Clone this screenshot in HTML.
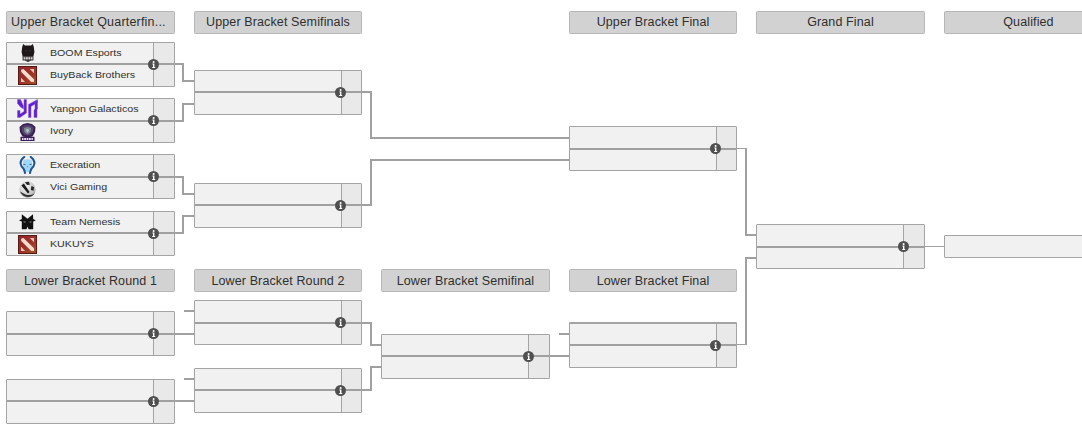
<!DOCTYPE html><html><head><meta charset="utf-8"><style>
html,body{margin:0;padding:0;background:#fff;width:1082px;height:430px;overflow:hidden;position:relative;font-family:"Liberation Sans",sans-serif}
.c{position:absolute}
.hd{position:absolute;height:23px;box-sizing:border-box;background:#d2d2d2;border:1px solid #b6b6b6;border-radius:1.5px;color:#2f2f2f;font-size:12.5px;letter-spacing:0.12px;line-height:21px;text-align:center;white-space:nowrap;overflow:hidden}
.m{position:absolute;height:45px;box-sizing:border-box;border-radius:1px;overflow:hidden;border:1px solid #a4a4a4;background:#f1f1f1}
.sc{position:absolute;right:0;top:0;bottom:0;box-sizing:border-box;background:#e9e9e9;border-left:1px solid #a4a4a4}
.ml{position:absolute;left:0;right:0;height:2px;background:#a0a0a0}
.tn{position:absolute;height:20px;line-height:20px;font-size:9.5px;letter-spacing:0;transform:scaleX(1.12);transform-origin:0 0;color:#303030;white-space:nowrap}
.ic{position:absolute;width:22px;height:22px;display:flex;align-items:center;justify-content:center}
.ic svg{display:block}
.info{position:absolute;display:block}
</style></head><body>
<div class="hd" style="left:6px;top:11px;width:169px;text-align:left;padding-left:4px;letter-spacing:0.2px">Upper Bracket Quarterfin...</div><div class="hd" style="left:194px;top:11px;width:168px;">Upper Bracket Semifinals</div><div class="hd" style="left:569px;top:11px;width:168px;">Upper Bracket Final</div><div class="hd" style="left:756px;top:11px;width:169px;">Grand Final</div><div class="hd" style="left:944px;top:11px;width:169px;">Qualified</div><div class="hd" style="left:6px;top:269px;width:169px;line-height:23px">Lower Bracket Round 1</div><div class="hd" style="left:194px;top:269px;width:168px;line-height:23px">Lower Bracket Round 2</div><div class="hd" style="left:381px;top:269px;width:169px;line-height:23px">Lower Bracket Semifinal</div><div class="hd" style="left:569px;top:269px;width:168px;line-height:23px">Lower Bracket Final</div><div class="c" style="left:175px;top:63px;width:9px;height:2px;background:#a0a0a0"></div><div class="c" style="left:182px;top:63px;width:2px;height:19px;background:#a0a0a0"></div><div class="c" style="left:182px;top:80px;width:12px;height:2px;background:#a0a0a0"></div><div class="c" style="left:175px;top:120px;width:9px;height:2px;background:#a0a0a0"></div><div class="c" style="left:182px;top:103px;width:2px;height:19px;background:#a0a0a0"></div><div class="c" style="left:182px;top:103px;width:12px;height:2px;background:#a0a0a0"></div><div class="c" style="left:175px;top:176px;width:9px;height:2px;background:#a0a0a0"></div><div class="c" style="left:182px;top:176px;width:2px;height:19px;background:#a0a0a0"></div><div class="c" style="left:182px;top:193px;width:12px;height:2px;background:#a0a0a0"></div><div class="c" style="left:175px;top:232px;width:9px;height:2px;background:#a0a0a0"></div><div class="c" style="left:182px;top:215px;width:2px;height:19px;background:#a0a0a0"></div><div class="c" style="left:182px;top:215px;width:12px;height:2px;background:#a0a0a0"></div><div class="c" style="left:362px;top:91px;width:10px;height:2px;background:#a0a0a0"></div><div class="c" style="left:370px;top:91px;width:2px;height:48px;background:#a0a0a0"></div><div class="c" style="left:370px;top:137px;width:199px;height:2px;background:#a0a0a0"></div><div class="c" style="left:362px;top:204px;width:10px;height:2px;background:#a0a0a0"></div><div class="c" style="left:370px;top:159px;width:2px;height:47px;background:#a0a0a0"></div><div class="c" style="left:370px;top:159px;width:199px;height:2px;background:#a0a0a0"></div><div class="c" style="left:737px;top:148px;width:10px;height:1px;background:#a0a0a0"></div><div class="c" style="left:745px;top:148px;width:2px;height:88px;background:#a0a0a0"></div><div class="c" style="left:745px;top:234px;width:11px;height:2px;background:#a0a0a0"></div><div class="c" style="left:737px;top:344px;width:10px;height:1px;background:#a0a0a0"></div><div class="c" style="left:745px;top:257px;width:2px;height:88px;background:#a0a0a0"></div><div class="c" style="left:745px;top:257px;width:11px;height:2px;background:#a0a0a0"></div><div class="c" style="left:925px;top:246px;width:19px;height:1px;background:#a3a3a3"></div><div class="c" style="left:175px;top:333px;width:19px;height:2px;background:#a0a0a0"></div><div class="c" style="left:184px;top:310px;width:10px;height:2px;background:#a0a0a0"></div><div class="c" style="left:175px;top:400px;width:19px;height:2px;background:#a0a0a0"></div><div class="c" style="left:184px;top:378px;width:10px;height:2px;background:#a0a0a0"></div><div class="c" style="left:362px;top:322px;width:10px;height:2px;background:#a0a0a0"></div><div class="c" style="left:370px;top:322px;width:2px;height:24px;background:#a0a0a0"></div><div class="c" style="left:370px;top:344px;width:11px;height:2px;background:#a0a0a0"></div><div class="c" style="left:362px;top:389px;width:10px;height:2px;background:#a0a0a0"></div><div class="c" style="left:370px;top:366px;width:2px;height:25px;background:#a0a0a0"></div><div class="c" style="left:370px;top:366px;width:11px;height:2px;background:#a0a0a0"></div><div class="c" style="left:550px;top:355px;width:19px;height:2px;background:#a0a0a0"></div><div class="c" style="left:559px;top:333px;width:10px;height:2px;background:#a0a0a0"></div><div class="m" style="left:6px;top:42px;width:169px"><div class="sc" style="left:146px"></div><div class="ml" style="top:20px"></div></div><div class="tn" style="left:50px;top:42.81px">BOOM Esports</div><div class="ic" style="left:16.8px;top:41.80px"><svg width="14" height="18" viewBox="0 0 14 18"><path d="M2.2 0 L4 1.6 L10 1.6 L11.8 0 L12.8 3 L13.4 8 L12.4 12.6 L1.6 12.6 L0.6 8 L1.2 3 Z" fill="#1e1719"/><path d="M4.5 6 L6.3 7 L4.8 7.6Z M9.5 6 L7.7 7 L9.2 7.6Z" fill="#4a4244"/><rect x="1.6" y="12.4" width="10.8" height="4" fill="#221b1d"/><g fill="#d9d4d5"><rect x="2.5" y="13.2" width="1.9" height="2.3"/><rect x="4.9" y="13.2" width="1.9" height="2.3"/><rect x="7.3" y="13.2" width="1.9" height="2.3"/><rect x="9.7" y="13.2" width="1.9" height="2.3"/></g><path d="M3.5 16.3 L10.5 16.3 L7 17.9 Z" fill="#1e1719"/></svg></div><div class="tn" style="left:50px;top:65.11px">BuyBack Brothers</div><div class="ic" style="left:16.8px;top:64.50px"><svg width="19" height="19" viewBox="0 0 19 19"><defs><linearGradient id="dg" x1="0" y1="0" x2="1" y2="1"><stop offset="0" stop-color="#92232e"/><stop offset="0.55" stop-color="#9c3328"/><stop offset="1" stop-color="#a85026"/></linearGradient></defs><rect x="0" y="0" width="19" height="19" fill="#521b14"/><rect x="1" y="1" width="17" height="17" fill="url(#dg)"/><path d="M3 3.8 L5.5 3 L16 13.2 L16 16 L13.2 16 L3.2 6 Z" fill="#f7dccb"/><path d="M11.8 3 L16 3 L16 7.2 Z" fill="#f0c7b4"/><path d="M3 11.8 L3 16 L7.2 16 Z" fill="#f0c7b4"/></svg></div><svg class="info" style="left:148px;top:59px" width="11" height="11" viewBox="0 0 11 11"><circle cx="5.5" cy="5.5" r="5.5" fill="#4f4f4f"/><circle cx="5.6" cy="2.9" r="1" fill="#fff"/><path d="M4.4 4.6h2v3.4h0.8v1h-3v-1h0.8v-2.4h-0.6z" fill="#fff"/></svg><div class="m" style="left:6px;top:98px;width:169px"><div class="sc" style="left:146px"></div><div class="ml" style="top:21px"></div></div><div class="tn" style="left:50px;top:98.81px">Yangon Galacticos</div><div class="ic" style="left:16.8px;top:97.80px"><svg width="21" height="19" viewBox="0 0 21 19"><g fill="#5f22c8" stroke="#8a55ea" stroke-width="0.5" stroke-linejoin="round"><path d="M0.5 0.5 L3.5 0.5 L6.5 7 L6.5 10 L3.5 8 L0.5 4.5 Z"/><path d="M7 0.5 L9.5 0.5 L9.5 14 L3 18.5 L0.5 18.5 L0.5 11.5 L3 11.5 L3 15 L7 12.5 Z"/><path d="M11.5 5.5 L20.5 0.5 L20.5 3.5 L14 7.5 L14 18.5 L11.5 18.5 Z"/><path d="M18 3.2 L20.5 1.8 L20.5 10 L20 10.5 L20 18.5 L17 18.5 L17 11 L18 10 Z"/></g></svg></div><div class="tn" style="left:50px;top:121.11px">Ivory</div><div class="ic" style="left:16.8px;top:120.50px"><svg width="17" height="18" viewBox="0 0 17 18"><path d="M0.5 4 L4 1 L8.5 0 L13 1 L16.5 4 L16 9 L13.5 13.5 L8.5 14.5 L3.5 13.5 L1 9 Z" fill="#38204f"/><path d="M2.5 4.5 L5 2.5 L8.5 2 L12 2.5 L14.5 4.5 L14 8.5 L12 11.5 L8.5 12.5 L5 11.5 L3 8.5 Z" fill="#574370"/><path d="M5 5 L8.5 4 L12 5 L11.5 9 L8.5 11.5 L5.5 9 Z" fill="#7b8a92"/><path d="M7 6.5 L8.5 6 L10 6.5 L9.5 8.5 L8.5 9.5 L7.5 8.5 Z" fill="#b4c0c6"/><rect x="1.5" y="13.8" width="14" height="4.2" fill="#3a1f5c"/><g fill="#e6def0"><rect x="3" y="15" width="1.5" height="2"/><rect x="5.2" y="15" width="1.8" height="2"/><rect x="7.6" y="15" width="1.8" height="2"/><rect x="10" y="15" width="1.8" height="2"/><rect x="12.4" y="15" width="1.5" height="2"/></g></svg></div><svg class="info" style="left:148px;top:115px" width="11" height="11" viewBox="0 0 11 11"><circle cx="5.5" cy="5.5" r="5.5" fill="#4f4f4f"/><circle cx="5.6" cy="2.9" r="1" fill="#fff"/><path d="M4.4 4.6h2v3.4h0.8v1h-3v-1h0.8v-2.4h-0.6z" fill="#fff"/></svg><div class="m" style="left:6px;top:154px;width:169px"><div class="sc" style="left:146px"></div><div class="ml" style="top:21px"></div></div><div class="tn" style="left:50px;top:154.81px">Execration</div><div class="ic" style="left:16.8px;top:153.80px"><svg width="17" height="18" viewBox="0 0 17 18"><path d="M4.2 4.6 Q8.5 1.8 12.8 4.6 L13.2 10 Q11.2 12.5 10.2 16 L6.8 16 Q5.8 12.5 3.8 10 Z" fill="#9fd7f7"/><g fill="none" stroke="#1d5595" stroke-width="2.1" stroke-linecap="round" stroke-linejoin="round"><path d="M5.2 1 Q1.2 4 1.6 7.5 Q2 10.5 4.6 12.8 Q5.8 14.5 6 17"/><path d="M11.8 1 Q15.8 4 15.4 7.5 Q15 10.5 12.4 12.8 Q11.2 14.5 11 17"/></g><path d="M4.2 7.7 L7.4 8.3 L4.8 9.1 Z M12.8 7.7 L9.6 8.3 L12.2 9.1 Z" fill="#1d5595"/><path d="M7.8 10.2 L9.2 10.2 L8.5 11.6 Z" fill="#3d78b5"/></svg></div><div class="tn" style="left:50px;top:177.11px">Vici Gaming</div><div class="ic" style="left:16.8px;top:176.50px"><svg width="18" height="20" viewBox="0.6 -3 18 20"><defs><radialGradient id="vg" cx="0.4" cy="0.35" r="0.75"><stop offset="0" stop-color="#fafafa"/><stop offset="0.7" stop-color="#c4c4c4"/><stop offset="1" stop-color="#8a8a8a"/></radialGradient></defs><circle cx="9" cy="8.5" r="8.2" fill="url(#vg)"/><path d="M3 4.5 L5.5 2.6 L11.2 11 L9.6 12.6 Z" fill="#1c1c1c"/><path d="M6.5 1.2 L10.5 0.8 L11.5 3.8 L8.6 4 Z" fill="#2a2a2a"/><path d="M13 5 L15.6 6 L15.2 9.8 L12.4 9 Z" fill="#262626"/><path d="M1.5 10.5 Q4.5 16.2 10.5 16 Q14.5 15.5 16.2 12.5 Q12 15 7 13.4 Z" fill="#303030"/></svg></div><svg class="info" style="left:148px;top:171px" width="11" height="11" viewBox="0 0 11 11"><circle cx="5.5" cy="5.5" r="5.5" fill="#4f4f4f"/><circle cx="5.6" cy="2.9" r="1" fill="#fff"/><path d="M4.4 4.6h2v3.4h0.8v1h-3v-1h0.8v-2.4h-0.6z" fill="#fff"/></svg><div class="m" style="left:6px;top:211px;width:169px"><div class="sc" style="left:146px"></div><div class="ml" style="top:20px"></div></div><div class="tn" style="left:50px;top:211.81px">Team Nemesis</div><div class="ic" style="left:16.8px;top:210.80px"><svg width="17" height="16" viewBox="0 0 17 16"><path d="M2.8 0.2 L8.5 4.7 L14 0.2 L14.2 5 L16.8 6.4 L14.2 7.6 L14.2 15.3 L9.5 15.3 L8.5 12.5 L7.5 15.3 L2.8 15.3 L2.8 7.6 L0 6.4 L2.8 5 Z" fill="#111"/><path d="M4.5 7.2 L7.5 8 L4.8 8.7 Z M12.5 7.2 L9.5 8 L12.2 8.7 Z" fill="#8a8a8a"/></svg></div><div class="tn" style="left:50px;top:234.11px">KUKUYS</div><div class="ic" style="left:16.8px;top:233.50px"><svg width="19" height="19" viewBox="0 0 19 19"><defs><linearGradient id="dg" x1="0" y1="0" x2="1" y2="1"><stop offset="0" stop-color="#92232e"/><stop offset="0.55" stop-color="#9c3328"/><stop offset="1" stop-color="#a85026"/></linearGradient></defs><rect x="0" y="0" width="19" height="19" fill="#521b14"/><rect x="1" y="1" width="17" height="17" fill="url(#dg)"/><path d="M3 3.8 L5.5 3 L16 13.2 L16 16 L13.2 16 L3.2 6 Z" fill="#f7dccb"/><path d="M11.8 3 L16 3 L16 7.2 Z" fill="#f0c7b4"/><path d="M3 11.8 L3 16 L7.2 16 Z" fill="#f0c7b4"/></svg></div><svg class="info" style="left:148px;top:228px" width="11" height="11" viewBox="0 0 11 11"><circle cx="5.5" cy="5.5" r="5.5" fill="#4f4f4f"/><circle cx="5.6" cy="2.9" r="1" fill="#fff"/><path d="M4.4 4.6h2v3.4h0.8v1h-3v-1h0.8v-2.4h-0.6z" fill="#fff"/></svg><div class="m" style="left:194px;top:70px;width:168px"><div class="sc" style="left:146px"></div><div class="ml" style="top:20px"></div></div><svg class="info" style="left:335px;top:87px" width="11" height="11" viewBox="0 0 11 11"><circle cx="5.5" cy="5.5" r="5.5" fill="#4f4f4f"/><circle cx="5.6" cy="2.9" r="1" fill="#fff"/><path d="M4.4 4.6h2v3.4h0.8v1h-3v-1h0.8v-2.4h-0.6z" fill="#fff"/></svg><div class="m" style="left:194px;top:183px;width:168px"><div class="sc" style="left:146px"></div><div class="ml" style="top:20px"></div></div><svg class="info" style="left:335px;top:200px" width="11" height="11" viewBox="0 0 11 11"><circle cx="5.5" cy="5.5" r="5.5" fill="#4f4f4f"/><circle cx="5.6" cy="2.9" r="1" fill="#fff"/><path d="M4.4 4.6h2v3.4h0.8v1h-3v-1h0.8v-2.4h-0.6z" fill="#fff"/></svg><div class="m" style="left:569px;top:126px;width:168px"><div class="sc" style="left:146px"></div><div class="ml" style="top:21px"></div></div><svg class="info" style="left:710px;top:143px" width="11" height="11" viewBox="0 0 11 11"><circle cx="5.5" cy="5.5" r="5.5" fill="#4f4f4f"/><circle cx="5.6" cy="2.9" r="1" fill="#fff"/><path d="M4.4 4.6h2v3.4h0.8v1h-3v-1h0.8v-2.4h-0.6z" fill="#fff"/></svg><div class="m" style="left:756px;top:224px;width:169px"><div class="sc" style="left:146px"></div><div class="ml" style="top:21px"></div></div><svg class="info" style="left:898px;top:241px" width="11" height="11" viewBox="0 0 11 11"><circle cx="5.5" cy="5.5" r="5.5" fill="#4f4f4f"/><circle cx="5.6" cy="2.9" r="1" fill="#fff"/><path d="M4.4 4.6h2v3.4h0.8v1h-3v-1h0.8v-2.4h-0.6z" fill="#fff"/></svg><div class="m" style="left:6px;top:311px;width:169px"><div class="sc" style="left:146px"></div><div class="ml" style="top:21px"></div></div><svg class="info" style="left:148px;top:328px" width="11" height="11" viewBox="0 0 11 11"><circle cx="5.5" cy="5.5" r="5.5" fill="#4f4f4f"/><circle cx="5.6" cy="2.9" r="1" fill="#fff"/><path d="M4.4 4.6h2v3.4h0.8v1h-3v-1h0.8v-2.4h-0.6z" fill="#fff"/></svg><div class="m" style="left:6px;top:379px;width:169px"><div class="sc" style="left:146px"></div><div class="ml" style="top:20px"></div></div><svg class="info" style="left:148px;top:396px" width="11" height="11" viewBox="0 0 11 11"><circle cx="5.5" cy="5.5" r="5.5" fill="#4f4f4f"/><circle cx="5.6" cy="2.9" r="1" fill="#fff"/><path d="M4.4 4.6h2v3.4h0.8v1h-3v-1h0.8v-2.4h-0.6z" fill="#fff"/></svg><div class="m" style="left:194px;top:300px;width:168px"><div class="sc" style="left:146px"></div><div class="ml" style="top:21px"></div></div><svg class="info" style="left:335px;top:317px" width="11" height="11" viewBox="0 0 11 11"><circle cx="5.5" cy="5.5" r="5.5" fill="#4f4f4f"/><circle cx="5.6" cy="2.9" r="1" fill="#fff"/><path d="M4.4 4.6h2v3.4h0.8v1h-3v-1h0.8v-2.4h-0.6z" fill="#fff"/></svg><div class="m" style="left:194px;top:368px;width:168px"><div class="sc" style="left:146px"></div><div class="ml" style="top:20px"></div></div><svg class="info" style="left:335px;top:385px" width="11" height="11" viewBox="0 0 11 11"><circle cx="5.5" cy="5.5" r="5.5" fill="#4f4f4f"/><circle cx="5.6" cy="2.9" r="1" fill="#fff"/><path d="M4.4 4.6h2v3.4h0.8v1h-3v-1h0.8v-2.4h-0.6z" fill="#fff"/></svg><div class="m" style="left:381px;top:334px;width:169px"><div class="sc" style="left:146px"></div><div class="ml" style="top:20px"></div></div><svg class="info" style="left:523px;top:351px" width="11" height="11" viewBox="0 0 11 11"><circle cx="5.5" cy="5.5" r="5.5" fill="#4f4f4f"/><circle cx="5.6" cy="2.9" r="1" fill="#fff"/><path d="M4.4 4.6h2v3.4h0.8v1h-3v-1h0.8v-2.4h-0.6z" fill="#fff"/></svg><div class="m" style="left:569px;top:322px;height:46px;border-top-width:2px;width:168px"><div class="sc" style="left:146px"></div><div class="ml" style="top:20px"></div></div><svg class="info" style="left:710px;top:340px" width="11" height="11" viewBox="0 0 11 11"><circle cx="5.5" cy="5.5" r="5.5" fill="#4f4f4f"/><circle cx="5.6" cy="2.9" r="1" fill="#fff"/><path d="M4.4 4.6h2v3.4h0.8v1h-3v-1h0.8v-2.4h-0.6z" fill="#fff"/></svg><div class="m" style="left:944px;top:235px;width:169px;height:23px"></div></body></html>
